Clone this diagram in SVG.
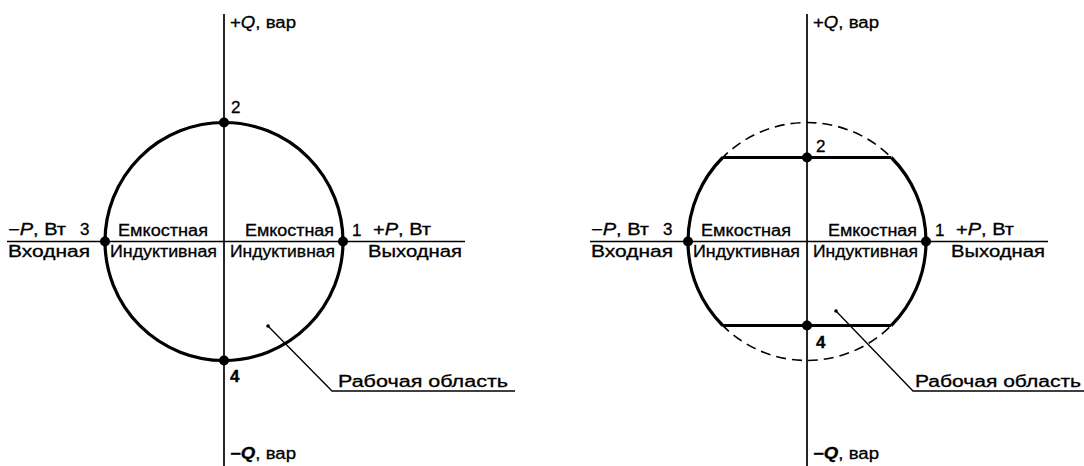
<svg xmlns="http://www.w3.org/2000/svg" width="1084" height="466" viewBox="0 0 1084 466">
<style>
.ax{stroke:#000;stroke-width:1.7;fill:none}
.thick{stroke:#000;stroke-width:3.2;fill:none}
.dash{stroke:#000;stroke-width:1.6;fill:none;stroke-dasharray:10 6}
.lead{stroke:#000;stroke-width:1.3;fill:none}
.pt{fill:#000}
text{font-family:"Liberation Sans",Arial,sans-serif;font-size:16px;fill:#000;stroke:#000;stroke-width:0.3}
.num{font-size:17px}
.it{font-style:italic}
.b{font-weight:bold}
</style>
<rect width="1084" height="466" fill="#fff"/>

<g id="left">
  <g id="left-axes">
    <line class="ax" x1="224" y1="14" x2="224" y2="466"/>
    <line class="ax" x1="7" y1="241.5" x2="465" y2="241.5"/>
  </g>
  <g id="left-circle">
    <circle class="thick" cx="224" cy="241.5" r="119"/>
  </g>
  <g id="left-points">
    <circle class="pt" cx="343" cy="241.5" r="5"/>
    <circle class="pt" cx="224" cy="122.5" r="5"/>
    <circle class="pt" cx="105" cy="241.5" r="5"/>
    <circle class="pt" cx="224" cy="360.5" r="5"/>
  </g>
  <g id="left-labels">
    <text x="230" y="28" textLength="66" lengthAdjust="spacingAndGlyphs">+<tspan class="it">Q</tspan>, вар</text>
    <text x="231" y="113" class="num">2</text>
    <text x="8" y="235" textLength="58" lengthAdjust="spacingAndGlyphs">−<tspan class="it">P</tspan>, Вт</text>
    <text x="80" y="235" class="num">3</text>
    <text x="118" y="236" textLength="90" lengthAdjust="spacingAndGlyphs">Емкостная</text>
    <text x="245" y="236" textLength="89" lengthAdjust="spacingAndGlyphs">Емкостная</text>
    <text x="352" y="236" class="num">1</text>
    <text x="373" y="235" textLength="58" lengthAdjust="spacingAndGlyphs">+<tspan class="it">P</tspan>, Вт</text>
    <text x="8" y="257" textLength="82" lengthAdjust="spacingAndGlyphs">Входная</text>
    <text x="110" y="257" textLength="107" lengthAdjust="spacingAndGlyphs">Индуктивная</text>
    <text x="230" y="257" textLength="105" lengthAdjust="spacingAndGlyphs">Индуктивная</text>
    <text x="368" y="257" textLength="94" lengthAdjust="spacingAndGlyphs">Выходная</text>
    <text x="230" y="382" class="num b">4</text>
    <text x="230" y="459" textLength="66" lengthAdjust="spacingAndGlyphs"><tspan class="b">−<tspan class="it">Q</tspan></tspan>, вар</text>
    <text x="338" y="387" textLength="170" lengthAdjust="spacingAndGlyphs">Рабочая область</text>
  </g>
</g>

<g id="right">
  <g id="right-axes">
    <line class="ax" x1="807" y1="14" x2="807" y2="466"/>
    <line class="ax" x1="590" y1="241.5" x2="1048" y2="241.5"/>
  </g>
  <g id="right-circle">
    <circle class="dash" cx="807" cy="241.5" r="119"/>
    <path class="thick" d="M722.7,157.5 A119,119 0 0 0 722.7,325.5"/>
    <path class="thick" d="M891.3,157.5 A119,119 0 0 1 891.3,325.5"/>
    <line class="thick" x1="722.7" y1="157.5" x2="891.3" y2="157.5"/>
    <line class="thick" x1="722.7" y1="325.5" x2="891.3" y2="325.5"/>
  </g>
  <g id="right-points">
    <circle class="pt" cx="926" cy="241.5" r="5"/>
    <circle class="pt" cx="807" cy="157.5" r="5"/>
    <circle class="pt" cx="688" cy="241.5" r="5"/>
    <circle class="pt" cx="807" cy="325.5" r="5"/>
  </g>
  <g id="right-labels">
    <text x="813" y="28" textLength="66" lengthAdjust="spacingAndGlyphs">+<tspan class="it">Q</tspan>, вар</text>
    <text x="816" y="152" class="num">2</text>
    <text x="591" y="235" textLength="58" lengthAdjust="spacingAndGlyphs">−<tspan class="it">P</tspan>, Вт</text>
    <text x="663" y="235" class="num">3</text>
    <text x="701" y="236" textLength="90" lengthAdjust="spacingAndGlyphs">Емкостная</text>
    <text x="828" y="236" textLength="89" lengthAdjust="spacingAndGlyphs">Емкостная</text>
    <text x="935" y="236" class="num">1</text>
    <text x="956" y="235" textLength="58" lengthAdjust="spacingAndGlyphs">+<tspan class="it">P</tspan>, Вт</text>
    <text x="591" y="257" textLength="82" lengthAdjust="spacingAndGlyphs">Входная</text>
    <text x="693" y="257" textLength="107" lengthAdjust="spacingAndGlyphs">Индуктивная</text>
    <text x="813" y="257" textLength="105" lengthAdjust="spacingAndGlyphs">Индуктивная</text>
    <text x="951" y="257" textLength="94" lengthAdjust="spacingAndGlyphs">Выходная</text>
    <text x="816" y="348" class="num b">4</text>
    <text x="813" y="459" textLength="66" lengthAdjust="spacingAndGlyphs"><tspan class="b">−<tspan class="it">Q</tspan></tspan>, вар</text>
    <text x="915" y="387" textLength="166" lengthAdjust="spacingAndGlyphs">Рабочая область</text>
  </g>
</g>

<g id="connectors">
  <circle class="pt" cx="268" cy="326" r="1.8"/>
  <polyline class="lead" points="268,326 332,391 515,391"/>
  <circle class="pt" cx="836" cy="311" r="1.8"/>
  <polyline class="lead" points="836,311 913,391 1084,391"/>
</g>
</svg>
